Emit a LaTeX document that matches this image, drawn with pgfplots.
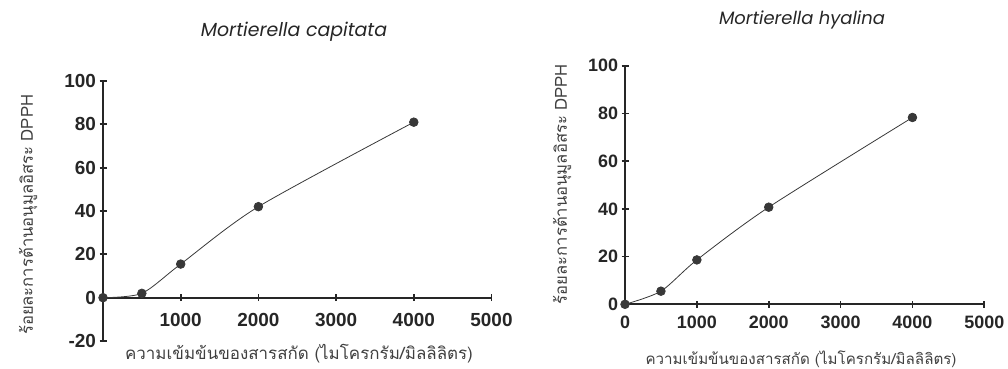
\documentclass[border=0pt]{standalone}
\usepackage{pgfplots}
\pgfplotsset{compat=1.18}
\usepackage{fontspec}
\setmainfont{Liberation Sans}
\newfontfamily\thaifont[Script=Thai]{Loma}
\newfontfamily\titlefont{Poppins}
\pgfplotsset{
  mystyle/.style={
    scale only axis,
    major tick style={line width=1.8bp,black!85},
    major tick length=7bp,
    tick align=outside,
    /pgf/number format/assume math mode=true,
    /pgf/number format/1000 sep={},
    clip=false,
    xmin=0,xmax=5000,
  },
  lines/.style={axis line style={line width=1.8bp,-,black!85}},
  myplot/.style={color=black!78, line width=0.8bp, mark=*, mark size=4.3bp, smooth, tension=0.45},
}
\begin{document}
\begin{tikzpicture}
\path[use as bounding box] (0,0) rectangle (1008bp,369bp);
% Left panel
\begin{axis}[mystyle,
  at={(103bp,28bp)}, anchor=south west,
  width=388.5bp, height=260bp,
  axis x line=middle, axis y line=left, lines,
  ymin=-20, ymax=100,
  xtick={1000,2000,3000,4000,5000},
  ytick={-20,0,20,40,60,80,100},
  tick label style={font=\fontsize{19}{19}\selectfont\bfseries, text=black!85},
  xticklabel style={yshift=-9bp},
  title={\titlefont\itshape\fontsize{19}{19}\selectfont Mortierella capitata},
  title style={at={(axis description cs:0.4916,1.165)}, anchor=center, text=black!85},
  xlabel={\thaifont\fontsize{17}{17}\selectfont ความเข้มข้นของสารสกัด (ไมโครกรัม/มิลลิลิตร)},
  xlabel style={at={(axis description cs:0.5045,-0.05)}, anchor=center, text=black!75},
  ylabel={\thaifont\fontsize{16.7}{16.7}\selectfont ร้อยละการต้านอนุมูลอิสระ DPPH},
  ylabel style={at={(axis description cs:-0.193,0.485)}, anchor=center, rotate=0, text=black!75},
]
\addplot[myplot] coordinates {(0,0) (500,2) (1000,15.5) (2000,42) (4000,81)};
\end{axis}
% Right panel
\begin{axis}[mystyle,
  at={(625bp,64.7bp)}, anchor=south west,
  width=359.3bp, height=238.6bp,
  axis lines=left, lines,
  ymin=0, ymax=100,
  xtick={0,1000,2000,3000,4000,5000},
  ytick={0,20,40,60,80,100},
  tick label style={font=\fontsize{18}{18}\selectfont\bfseries, text=black!85},
  xticklabel style={yshift=-5bp},
  title={\titlefont\itshape\fontsize{18}{18}\selectfont Mortierella hyalina},
  title style={at={(axis description cs:0.4926,1.166)}, anchor=center, text=black!85},
  xlabel={\thaifont\fontsize{15.2}{15.2}\selectfont ความเข้มข้นของสารสกัด (ไมโครกรัม/มิลลิลิตร)},
  xlabel style={at={(axis description cs:0.49,-0.229)}, anchor=center, text=black!75},
  ylabel={\thaifont\fontsize{16.7}{16.7}\selectfont ร้อยละการต้านอนุมูลอิสระ DPPH},
  ylabel style={at={(axis description cs:-0.175,0.504)}, anchor=center, rotate=0, text=black!75},
]
\addplot[myplot] coordinates {(0,0) (500,5.5) (1000,18.6) (2000,40.7) (4000,78.3)};
\end{axis}
\end{tikzpicture}
\end{document}
